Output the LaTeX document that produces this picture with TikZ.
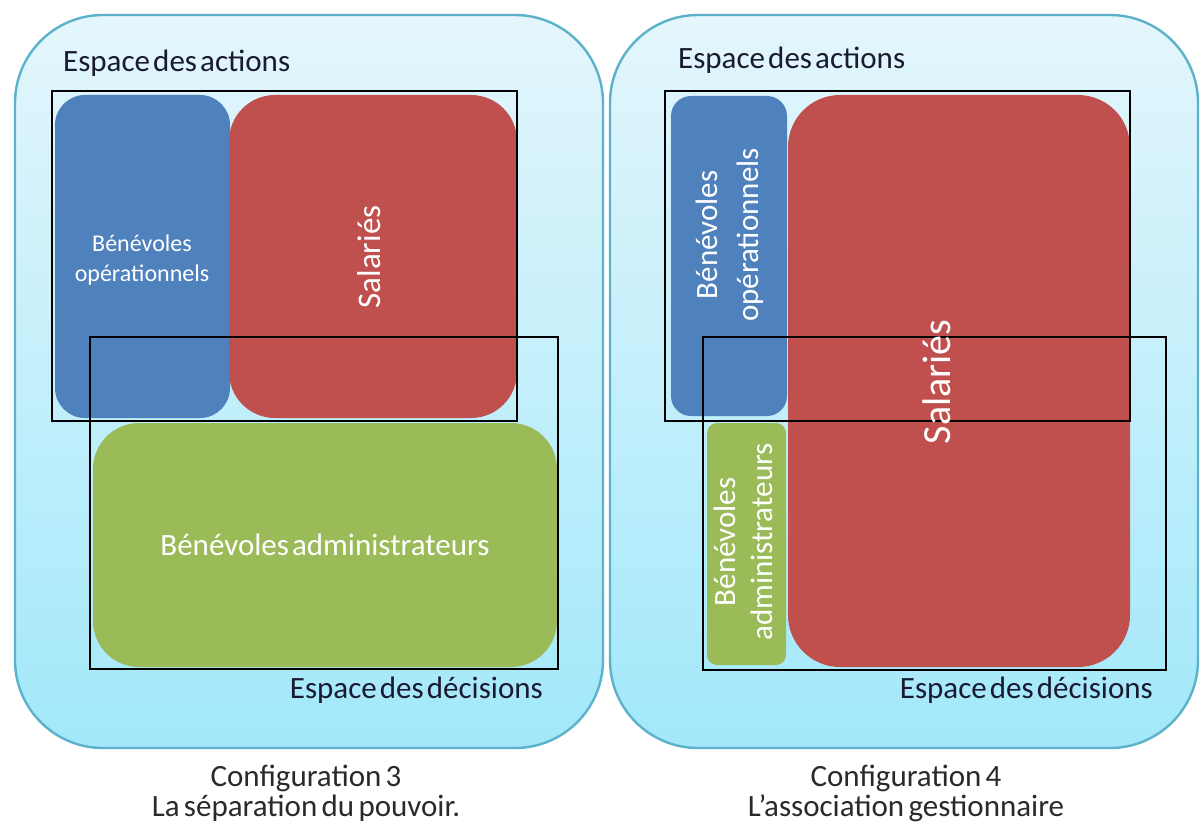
\documentclass[tikz,border=0pt]{standalone}
\usepackage{fontspec}
\setmainfont{Carlito}
\newcommand{\tightsp}[1]{\spaceskip=#1em\relax}
\begin{document}
\begin{tikzpicture}[x=1pt,y=-1pt,
  panel/.style={draw=panelborder,line width=2.4pt,rounded corners=88pt,top color=paneltop,bottom color=panelbot},
  shapebox/.style={anchor=north west,inner sep=0pt,outer sep=0pt,draw=none},
  framebox/.style={anchor=north west,inner sep=0pt,outer sep=0pt,draw=black,line width=2pt,fill=none},
  lbl/.style={inner sep=0pt,text=labelink,font=\fontsize{31}{36}\selectfont\tightsp{0.1}},
  captxt/.style={inner sep=0pt,text=capink,font=\fontsize{31}{36}\selectfont\tightsp{0.14}},
  wtxt/.style={inner sep=0pt,text=white,align=center}]
\definecolor{panelborder}{HTML}{5CB2CA}
\definecolor{paneltop}{HTML}{E4F6FC}
\definecolor{panelbot}{HTML}{A2E8FA}
\definecolor{obblue}{HTML}{4F81BD}
\definecolor{obred}{HTML}{C0504D}
\definecolor{obgreen}{HTML}{9BBB59}
\definecolor{labelink}{HTML}{1A1A30}
\definecolor{capink}{HTML}{2A2A2A}
\useasboundingbox (0,0) rectangle (1201,832);
% ---------- left panel ----------
\path[panel] (15,15) rectangle (603,748);
\node[shapebox,fill=obblue,rounded corners=30pt,minimum width=175pt,minimum height=323pt] (blueL) at (55,95) {};
\node[shapebox,fill=obred,rounded corners=46pt,minimum width=288pt,minimum height=323pt] (redL) at (229,95) {};
\node[shapebox,fill=obgreen,rounded corners=46pt,minimum width=464pt,minimum height=244pt] (greenL) at (93,423) {};
\node[framebox,minimum width=465pt,minimum height=330pt] (actL) at (52,91) {};
\node[framebox,minimum width=468pt,minimum height=332pt] (decL) at (90,337) {};
\node[wtxt,font=\fontsize{24}{30}\selectfont] (tBlueL) at (142,260) {Bénévoles\\opérationnels};
\node[wtxt,rotate=90,font=\fontsize{33}{36}\selectfont] (tRedL) at (369,257) {Salariés};
\node[wtxt,font=\fontsize{31}{36}\selectfont\tightsp{0.1}] (tGreenL) at (325,545) {Bénévoles administrateurs};
\node[lbl,anchor=west] (aL) at (63,63) {Espace des actions};
\node[lbl,anchor=east] (dL) at (543,690) {Espace des décisions};
\node[captxt] (c3a) at (306,778) {Configuration 3};
\node[captxt] (c3b) at (306,808) {La séparation du pouvoir.};
% ---------- right panel ----------
\path[panel] (610,15) rectangle (1198,748);
\node[shapebox,fill=obblue,rounded corners=20pt,minimum width=116pt,minimum height=320pt] (blueR) at (671,96) {};
\node[shapebox,fill=obred,rounded corners=52pt,minimum width=342pt,minimum height=572pt] (redR) at (788,95) {};
\node[shapebox,fill=obgreen,rounded corners=10pt,minimum width=79pt,minimum height=242pt] (greenR) at (707,423) {};
\node[framebox,minimum width=465pt,minimum height=330pt] (actR) at (665,91) {};
\node[framebox,minimum width=463pt,minimum height=333pt] (decR) at (703,337) {};
\node[wtxt,rotate=90,font=\fontsize{31}{41}\selectfont] (tBlueR) at (730,235) {Bénévoles\\opérationnels};
\node[wtxt,rotate=90,font=\fontsize{40}{44}\selectfont] (tRedR) at (937,382) {Salariés};
\node[wtxt,rotate=90,font=\fontsize{31}{37}\selectfont] (tGreenR) at (743,542) {Bénévoles\\administrateurs};
\node[lbl,anchor=west] (aR) at (678,60) {Espace des actions};
\node[lbl,anchor=east] (dR) at (1153,690) {Espace des décisions};
\node[captxt] (c4a) at (906,778) {Configuration 4};
\node[captxt] (c4b) at (906,808) {L’association gestionnaire};
\end{tikzpicture}
\end{document}
